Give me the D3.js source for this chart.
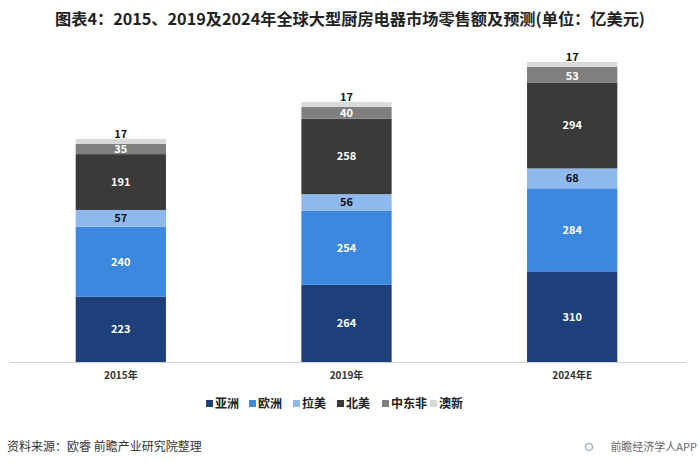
<!DOCTYPE html>
<html><head><meta charset="utf-8">
<script src="https://cdn.jsdelivr.net/npm/d3@7/dist/d3.min.js"></script>
<style>body{margin:0;background:#fff;}svg{display:block;}</style>
</head><body>
<svg id="c" width="700" height="469"></svg>
<script>
const categories = ["2015年", "2019年", "2024年E"];
const seriesNames = ["亚洲", "欧洲", "拉美", "北美", "中东非", "澳新"];
const asia = [223, 264, 310];
const europe = [240, 254, 284];
const latam = [57, 56, 68];
const northAm = [191, 258, 294];
const mea = [35, 40, 53];
const anz = [17, 17, 17];
const colors = ["#1d3f7a", "#3d87df", "#8fb9ee", "#3a3a3a", "#7f7f7f", "#d9d9d9"];

const seriesVals = [asia, europe, latam, northAm, mea, anz];
const rows = categories.map((c, i) => {
  const r = {cat: c};
  seriesNames.forEach((s, j) => r[s] = seriesVals[j][i]);
  return r;
});
const stack = d3.stack().keys(seriesNames)(rows);

const svg = d3.select("#c");
const font = "'Noto Sans CJK SC', 'Noto Sans', sans-serif";

const x = d3.scaleBand().domain(categories).range([8, 685]).paddingInner(0.6).paddingOuter(0.3);
const y = d3.scaleLinear().domain([0, 1026]).range([362, 62]);

// title
svg.append("text").attr("x", 350).attr("y", 25).attr("text-anchor", "middle")
  .attr("font-family", font).attr("font-weight", "bold").attr("font-size", 16).attr("fill", "#222")
  .attr("textLength", 590).attr("lengthAdjust", "spacingAndGlyphs")
  .text("图表4：2015、2019及2024年全球大型厨房电器市场零售额及预测(单位：亿美元)");

// bars
const g = svg.append("g");
stack.forEach((layer, j) => {
  g.selectAll(null).data(layer).enter().append("rect")
    .attr("x", d => x(d.data.cat)).attr("width", x.bandwidth())
    .attr("y", d => y(d[1])).attr("height", d => y(d[0]) - y(d[1]))
    .attr("fill", colors[j]);
});
function labelY(d, j) {
  const mid = (y(d[0]) + y(d[1])) / 2;
  if (j === 5) return y(d[1]) - 1;
  if (j === 4) return Math.min(mid + 5, y(d[0]) - 1.5);
  return mid + 4;
}
stack.forEach((layer, j) => {
  g.selectAll(null).data(layer).enter().append("text")
    .attr("x", d => x(d.data.cat) + x.bandwidth() / 2)
    .attr("y", d => labelY(d, j))
    .attr("text-anchor", "middle").attr("font-family", font).attr("font-weight", "bold")
    .attr("font-size", 11).attr("fill", (j === 5 || j === 2) ? "#111" : "#fff")
    .text(d => d[1] - d[0]);
});

// axis
const xAxis = d3.axisBottom(x).tickSize(0).tickPadding(10);
const ax = svg.append("g").attr("transform", "translate(0,362)").call(xAxis);
ax.select(".domain").attr("stroke", "#d0d0d0").attr("d", "M10,0.5H686");
ax.selectAll("text").attr("font-family", font).attr("font-weight", "bold").attr("font-size", 10).attr("fill", "#333");

// legend
const legX = [206, 249, 293, 337, 382, 430];
const leg = svg.append("g");
seriesNames.forEach((s, j) => {
  leg.append("rect").attr("x", legX[j]).attr("y", 400).attr("width", 7).attr("height", 7).attr("fill", colors[j]);
  leg.append("text").attr("x", legX[j] + 9).attr("y", 408).attr("font-family", font).attr("font-weight", "bold")
    .attr("font-size", 12).attr("fill", "#222").text(s);
});

// footer
svg.append("text").attr("x", 7).attr("y", 451).attr("font-family", font).attr("font-size", 12).attr("fill", "#333")
  .text("资料来源：欧睿 前瞻产业研究院整理");
svg.append("text").attr("x", 697).attr("y", 451).attr("text-anchor", "end").attr("font-family", font).attr("font-size", 11).attr("fill", "#666")
  .text("前瞻经济学人APP");
svg.append("circle").attr("cx", 589).attr("cy", 447).attr("r", 3.5).attr("fill", "none").attr("stroke", "#9ab").attr("stroke-width", 1.2);
</script>
</body></html>
